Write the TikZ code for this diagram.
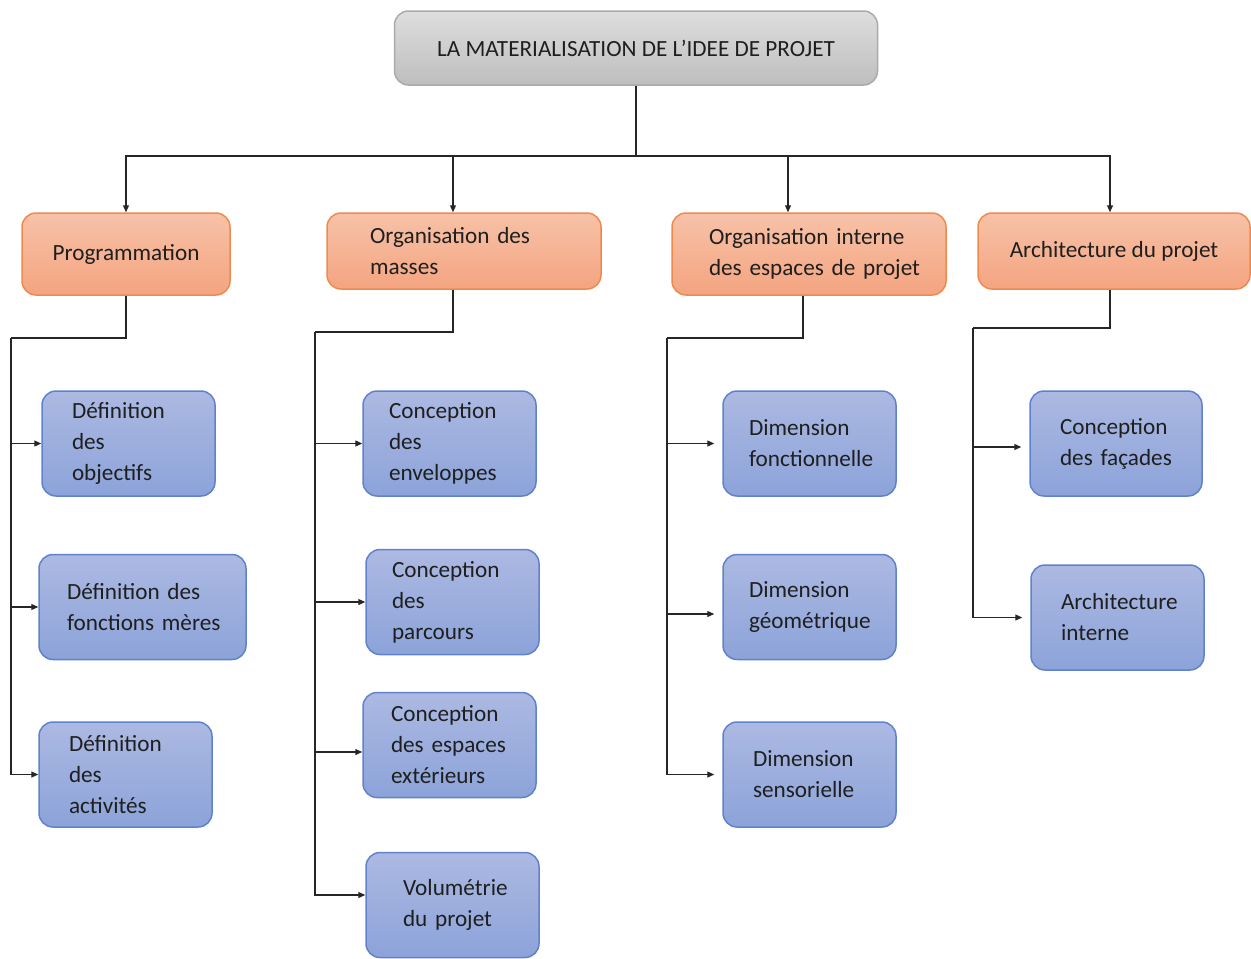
\documentclass[tikz,border=0pt]{standalone}
\usepackage{fontspec}
\setmainfont{Carlito}
\usetikzlibrary{arrows.meta,positioning}
\definecolor{titletop}{RGB}{222,222,222}
\definecolor{titlebot}{RGB}{190,190,190}
\definecolor{titleline}{RGB}{170,170,170}
\definecolor{grouptop}{RGB}{247,194,168}
\definecolor{groupbot}{RGB}{244,164,128}
\definecolor{groupline}{RGB}{240,137,78}
\definecolor{leaftop}{RGB}{172,185,226}
\definecolor{leafbot}{RGB}{140,163,217}
\definecolor{leafline}{RGB}{96,130,206}
\hyphenpenalty=10000
\hbadness=10000
\hfuzz=20pt

\begin{document}
\begin{tikzpicture}[x=0.5pt,y=-0.5pt,
  font=\fontsize{11.6}{15.5}\selectfont,
  box/.style={rounded corners=7pt,line width=0.75pt,inner ysep=0pt,text=black!88},
  titlebox/.style={box,draw=titleline,top color=titletop,bottom color=titlebot,
    minimum width=241.5pt,minimum height=37pt},
  groupbox/.style={box,draw=groupline,top color=grouptop,bottom color=groupbot,
    align=left,inner xsep=0pt},
  leafbox/.style={box,draw=leafline,top color=leaftop,bottom color=leafbot,
    align=left,inner xsep=15pt,minimum height=52.5pt,text width=#1},
  link/.style={line width=0.6pt,draw=black!85},
  arr/.style={link,-{Triangle[length=3.5pt,width=3pt]}}]
  \useasboundingbox (0,0) rectangle (1251,958);

  \node[titlebox] (title) at (636,48) {LA MATERIALISATION DE L’IDEE DE PROJET};

  \node[groupbox,minimum width=104pt,minimum height=41pt] (prog) at (126,254)
    {Programmation};
  \node[groupbox,inner xsep=21.5pt,text width=94pt,minimum height=38pt] (mas) at (464,251)
    {Organisation~des\\masses};
  \node[groupbox,inner xsep=18.5pt,text width=100pt,minimum height=41pt] (spa) at (809,254)
    {Organisation~interne\\des~espaces~de~projet};
  \node[groupbox,minimum width=136pt,minimum height=38pt] (arc) at (1114,251)
    {Architecture du projet};

  \node[leafbox=56.5pt] (obj) at (128.5,443.5) {Définition\\des\\objectifs};
  \node[leafbox=75.5pt,inner xsep=14pt] (mer) at (142.5,607) {Définition~des\\fonctions~mères};
  \node[leafbox=56.5pt] (act) at (125.5,774.5) {Définition\\des\\activités};

  \node[leafbox=60.5pt,inner xsep=13pt] (env) at (449.5,443.5) {Conception\\des\\enveloppes};
  \node[leafbox=60.5pt,inner xsep=13pt] (par) at (452.5,602) {Conception\\des\\parcours};
  \node[leafbox=58.5pt,inner xsep=14pt] (ext) at (449.5,745) {Conception\\des~espaces\\extérieurs};
  \node[leafbox=49.5pt,inner xsep=18.5pt] (vol) at (452.5,905) {Volumétrie\\du~projet};

  \node[leafbox=60.5pt,inner xsep=13pt] (fon) at (809.5,443.5) {Dimension\\fonctionnelle};
  \node[leafbox=60.5pt,inner xsep=13pt] (geo) at (809.5,607) {Dimension\\géométrique};
  \node[leafbox=56.5pt] (sen) at (809.5,774.5) {Dimension\\sensorielle};

  \node[leafbox=56pt] (fac) at (1116,443.5) {Conception\\des~façades};
  \node[leafbox=56.5pt] (int) at (1117.5,617.5) {Architecture\\interne};

  \coordinate (bus) at (636,156);
  \draw[link] (title.south) -- (bus);
  \draw[arr] (bus) -| (prog.north);
  \draw[arr] (bus) -| ([xshift=-5.5pt]mas.north);
  \draw[arr] (bus) -| ([xshift=-10.5pt]spa.north);
  \draw[arr] (bus) -| ([xshift=-2pt]arc.north);

  \coordinate (t1) at (11,338);
  \draw[link] (prog.south) |- (t1);
  \draw[arr] (t1) |- (act.west);
  \draw[arr] (t1 |- obj.west) -- (obj.west);
  \draw[arr] (t1 |- mer.west) -- (mer.west);

  \coordinate (t2) at (315,332);
  \draw[link] ([xshift=-5.5pt]mas.south) |- (t2);
  \draw[arr] (t2) |- ([yshift=5pt]vol.west);
  \draw[arr] (t2 |- env.west) -- (env.west);
  \draw[arr] (t2 |- par.west) -- (par.west);
  \draw[arr] ([yshift=-3.5pt]ext.west -| t2) -- ([yshift=-3.5pt]ext.west);

  \coordinate (t3) at (667,338);
  \draw[link] ([xshift=-3pt]spa.south) |- (t3);
  \draw[arr,shorten >=4pt] (t3) |- (sen.west);
  \draw[arr,shorten >=4pt] (t3 |- fon.west) -- (fon.west);
  \draw[arr,shorten >=4pt] ([yshift=-3.5pt]geo.west -| t3) -- ([yshift=-3.5pt]geo.west);

  \coordinate (t4) at (973,328);
  \draw[link] ([xshift=-2pt]arc.south) |- (t4);
  \draw[arr,shorten >=4pt] (t4) |- (int.west);
  \draw[arr,shorten >=4pt] ([yshift=-1.75pt]fac.west -| t4) -- ([yshift=-1.75pt]fac.west);
\end{tikzpicture}
\end{document}
